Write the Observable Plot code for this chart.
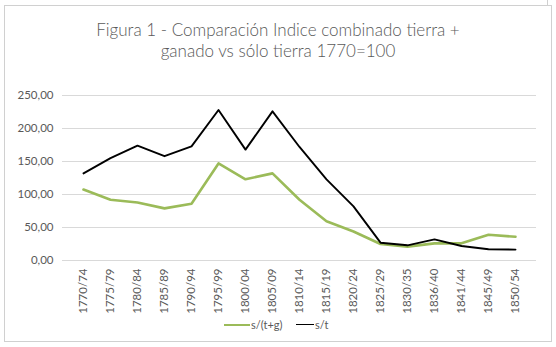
<!DOCTYPE html>
<html>
<head>
<meta charset="utf-8">
<script src="https://cdn.jsdelivr.net/npm/d3@7"></script>
<script src="https://cdn.jsdelivr.net/npm/@observablehq/plot@0.6"></script>
<style>
  html, body { margin: 0; padding: 0; background: #fff; }
  #wrap { position: relative; width: 556px; height: 347px; overflow: hidden; font-family: Lato, "Open Sans", sans-serif; }
  #frame { position: absolute; left: 4px; top: 5px; width: 548px; height: 337px; border: 1px solid #d0d0d0; box-sizing: border-box; }
  #outer { position: absolute; left: 547px; top: 0; width: 0; height: 5px; border-left: 1px solid #d0d0d0; }
  #title { position: absolute; left: 4px; width: 548px; top: 19px; text-align: center; color: #595959; font-weight: 300; font-size: 17px; line-height: 21px; }
  #chart { position: absolute; left: 0; top: 0; }
  #legend { position: absolute; left: 0; width: 556px; top: 317px; font-size: 11px; color: #595959; }
  .li { position: absolute; top: 0; height: 16px; line-height: 16px; }
  .sw { position: absolute; top: 8px; height: 0; }
</style>
</head>
<body>
<div id="wrap">
  <div id="outer"></div>
  <div id="frame"></div>
  <div id="title">Figura 1 - Comparación Indice combinado tierra +<br>ganado vs sólo tierra 1770=100</div>
  <div id="chart"></div>
  <div id="legend"></div>
</div>
<script>
const periods = ["1770/74","1775/79","1780/84","1785/89","1790/94","1795/99","1800/04","1805/09","1810/14","1815/19","1820/24","1825/29","1830/35","1836/40","1841/44","1845/49","1850/54"];
const seriesNames = ["s/(t+g)", "s/t"];
const sTG = [107.5, 92, 88, 79, 86, 147, 123, 132, 92, 59.5, 44, 25, 21, 26, 26, 39, 36];
const sT = [132, 155, 174, 158, 173, 228, 168, 226, 172, 123, 82, 27, 23, 32, 22, 17, 16.5];
const yTicks = [0, 50, 100, 150, 200, 250];
const colors = ["#9BBB59", "#000000"];

const dTG = periods.map((p, i) => ({period: p, value: sTG[i]}));
const dT = periods.map((p, i) => ({period: p, value: sT[i]}));
const fmt = d => d.toFixed(2).replace(".", ",");

const chart = Plot.plot({
  width: 556,
  height: 347,
  marginLeft: 62,
  marginRight: 20,
  marginTop: 95,
  marginBottom: 87,
  style: {background: "transparent", fontFamily: "Lato, 'Open Sans', sans-serif", color: "#595959", overflow: "visible"},
  x: {type: "point", domain: periods, padding: 0.5, label: null},
  y: {domain: [0, 250], label: null},
  marks: [
    Plot.gridY(yTicks, {stroke: "#d9d9d9", strokeOpacity: 1, strokeWidth: 1}),
    Plot.axisY(yTicks, {tickSize: 0, tickPadding: 9, tickFormat: fmt, fontSize: 11.5, fill: "#595959", label: null}),
    Plot.axisX({tickSize: 0, tickPadding: 8, tickRotate: -90, fontSize: 11.5, fill: "#595959", label: null}),
    Plot.line(dTG, {x: "period", y: "value", stroke: colors[0], strokeWidth: 2.6}),
    Plot.line(dT, {x: "period", y: "value", stroke: colors[1], strokeWidth: 1.9})
  ]
});
document.getElementById("chart").appendChild(chart);

// legend
const legend = document.getElementById("legend");
const items = [
  {name: seriesNames[0], color: colors[0], x0: 224, len: 26, w: 2.6},
  {name: seriesNames[1], color: colors[1], x0: 296, len: 18, w: 1.9}
];
items.forEach(it => {
  const sw = document.createElement("div");
  sw.className = "sw";
  sw.style.left = it.x0 + "px";
  sw.style.width = it.len + "px";
  sw.style.borderTop = it.w + "px solid " + it.color;
  sw.style.top = (8 - it.w / 2) + "px";
  legend.appendChild(sw);
  const t = document.createElement("div");
  t.className = "li";
  t.style.left = (it.x0 + it.len + 1) + "px";
  t.textContent = it.name;
  legend.appendChild(t);
});
</script>
</body>
</html>
